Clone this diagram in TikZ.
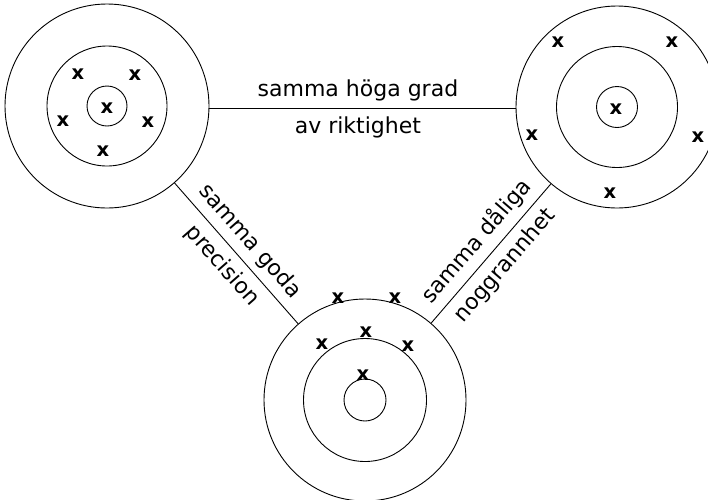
\documentclass[tikz,border=0pt]{standalone}
\usepackage{fontspec}
\setmainfont{DejaVu Sans}
\tikzset{
  ring/.style={draw, circle, inner sep=0pt, line width=0.9pt},
  link/.style={line width=0.9pt},
  crossx/.style={font=\fontsize{19.5}{19.5}\selectfont\bfseries, inner sep=0pt},
  lblA/.style={font=\fontsize{22}{26}\selectfont, inner xsep=0pt, inner ysep=6pt, text height=16.5pt, text depth=5.5pt},
  lblB/.style={font=\fontsize{22}{26}\selectfont, inner xsep=0pt, inner ysep=8pt, text height=16.5pt, text depth=5.5pt},
}
\begin{document}
\begin{tikzpicture}[x=1pt,y=-1pt]
\useasboundingbox (0,0) rectangle (708,499);
% top-left target
\node[ring, minimum size=204pt] (tlO) at (107,106) {};
\node[ring, minimum size=120pt] (tlM) at (107,106) {};
\node[ring, minimum size=40pt]  (tlI) at (107,106) {};
% top-right target
\node[ring, minimum size=202pt] (trO) at (617,107) {};
\node[ring, minimum size=121pt] (trM) at (617,107) {};
\node[ring, minimum size=41pt]  (trI) at (617,107) {};
% bottom target
\node[ring, minimum size=202pt] (bO) at (365,400) {};
\node[ring, minimum size=123pt] (bM) at (365,400) {};
\node[ring, minimum size=42pt]  (bI) at (365,400) {};
% crosses
\node[crossx] (a1) at (78,74) {x};
\node[crossx] (a2) at (135,75) {x};
\node[crossx] (a3) at (63,121) {x};
\node[crossx] (a4) at (148,122) {x};
\node[crossx] (a5) at (103,151) {x};
\node[crossx] (a6) at (107,108) {x};
\node[crossx] (b1) at (558,42) {x};
\node[crossx] (b2) at (672,42) {x};
\node[crossx] (b3) at (532,135) {x};
\node[crossx] (b4) at (698,137) {x};
\node[crossx] (b5) at (610,193) {x};
\node[crossx] (b6) at (616,109) {x};
\node[crossx] (c1) at (338,298) {x};
\node[crossx] (c2) at (395,298) {x};
\node[crossx] (c3) at (322,344) {x};
\node[crossx] (c4) at (366,332) {x};
\node[crossx] (c5) at (408,346) {x};
\node[crossx] (c6) at (363,375) {x};
% connectors
\draw[link] ([yshift=-2.5pt]tlO.east) -- ([yshift=-1.5pt]trO.west)
  node[pos=0.485, above, lblA] (t1) {samma höga grad}
  node[pos=0.485, below, lblB] (t2) {av riktighet};
\draw[link] (tlO) -- (bO)
  node[midway, sloped, above, lblA] (t3) {samma goda}
  node[midway, sloped, below, lblB] (t4) {precision};
\draw[link] (bO) -- (trO)
  node[midway, sloped, above, lblA] (t5) {samma dåliga}
  node[midway, sloped, below, lblB] (t6) {noggrannhet};
\end{tikzpicture}
\end{document}
